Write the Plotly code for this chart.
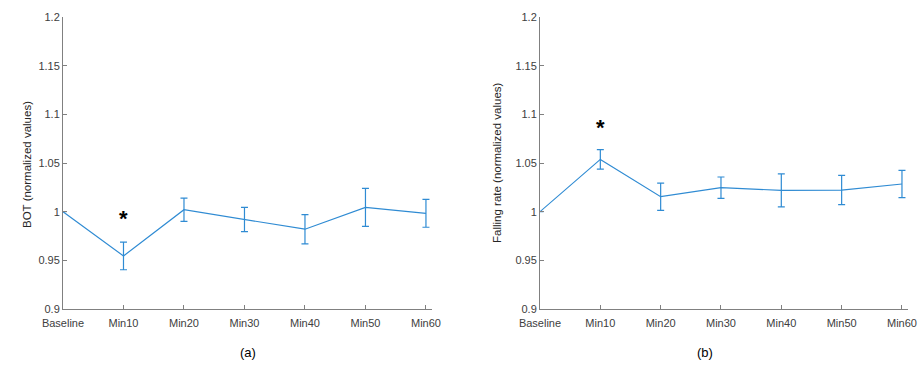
import plotly.graph_objects as go

categories = ["Baseline", "Min10", "Min20", "Min30", "Min40", "Min50", "Min60"]
bot_mean = [1.000, 0.9545, 1.002, 0.992, 0.982, 1.0044, 0.9983]
bot_err = [0.0, 0.0142, 0.012, 0.0125, 0.015, 0.0195, 0.0143]
fall_mean = [1.000, 1.0537, 1.0154, 1.0246, 1.0219, 1.0222, 1.0284]
fall_err = [0.0, 0.010, 0.014, 0.011, 0.017, 0.015, 0.014]
ytick_vals = [0.9, 0.95, 1.0, 1.05, 1.1, 1.15, 1.2]
ytick_text = ["0.9", "0.95", "1", "1.05", "1.1", "1.15", "1.2"]
star_bot = 0.9966
star_fall = 1.0907

LINE = "#2f8bd3"
FONT = "Liberation Sans, Arial, sans-serif"
xs = list(range(len(categories)))

fig = go.Figure()
fig.add_trace(go.Scatter(
    x=xs, y=bot_mean, mode="lines", line=dict(color=LINE, width=1.2),
    error_y=dict(type="data", array=bot_err, visible=True, color=LINE, thickness=1.2, width=3.5),
    xaxis="x", yaxis="y", showlegend=False, hoverinfo="skip"))
fig.add_trace(go.Scatter(
    x=xs, y=fall_mean, mode="lines", line=dict(color=LINE, width=1.2),
    error_y=dict(type="data", array=fall_err, visible=True, color=LINE, thickness=1.2, width=3.5),
    xaxis="x2", yaxis="y2", showlegend=False, hoverinfo="skip"))

W, H = 920, 370
ML, MR, MT, MB = 40, 8, 10, 40
PW, PH = W - ML - MR, H - MT - MB

def xd(a, b):
    return [(a - ML) / PW, (b - ML) / PW]

ydom = [1 - (309 - MT) / PH, 1 - (17 - MT) / PH]

xcommon = dict(range=[0, 6.1], tickmode="array", tickvals=xs, ticktext=categories,
               showgrid=False, zeroline=False, showline=True, linecolor="#808080", linewidth=1,
               ticks="inside", ticklen=4, tickcolor="#808080", automargin=False,
               ticklabelstandoff=4,
               tickfont=dict(family=FONT, size=11, color="#404040"))
ycommon = dict(range=[0.9, 1.2], tickmode="array", tickvals=ytick_vals, ticktext=ytick_text,
               showgrid=False, zeroline=False, showline=True, linecolor="#808080", linewidth=1,
               ticks="inside", ticklen=4, tickcolor="#808080", automargin=False,
               tickfont=dict(family=FONT, size=11, color="#404040"))

fig.update_layout(
    width=W, height=H, margin=dict(l=ML, r=MR, t=MT, b=MB),
    paper_bgcolor="white", plot_bgcolor="white",
    xaxis=dict(domain=xd(63, 432), anchor="y", **xcommon),
    yaxis=dict(domain=ydom, anchor="x", **ycommon),
    xaxis2=dict(domain=xd(540, 908), anchor="y2", **xcommon),
    yaxis2=dict(domain=ydom, anchor="x2", **ycommon),
)

def px_x(p):
    return (p - ML) / PW

def px_y(p):
    return 1 - (p - MT) / PH

fig.add_annotation(x=px_x(19), y=px_y(165), xref="paper", yref="paper",
                   text="BOT (normalized values)", textangle=-90, showarrow=False,
                   font=dict(family=FONT, size=11.5, color="#262626"))
fig.add_annotation(x=px_x(497), y=px_y(163), xref="paper", yref="paper",
                   text="Falling rate (normalized values)", textangle=-90, showarrow=False,
                   font=dict(family=FONT, size=11.5, color="#262626"))

fig.add_annotation(x=1, y=star_bot, xref="x", yref="y", text="<b>*</b>", showarrow=False,
                   font=dict(family=FONT, size=22, color="black"), yshift=-4)
fig.add_annotation(x=1, y=star_fall, xref="x2", yref="y2", text="<b>*</b>", showarrow=False,
                   font=dict(family=FONT, size=22, color="black"), yshift=-4)
fig.add_annotation(x=px_x(238), y=px_y(362), xref="paper", yref="paper", text="(a)", showarrow=False,
                   font=dict(family=FONT, size=13, color="black"))
fig.add_annotation(x=px_x(715), y=px_y(362), xref="paper", yref="paper", text="(b)", showarrow=False,
                   font=dict(family=FONT, size=13, color="black"))

fig.write_html("out.html", config={"displayModeBar": False},
               post_script="document.body.style.margin='0';document.body.style.overflow='hidden';")
